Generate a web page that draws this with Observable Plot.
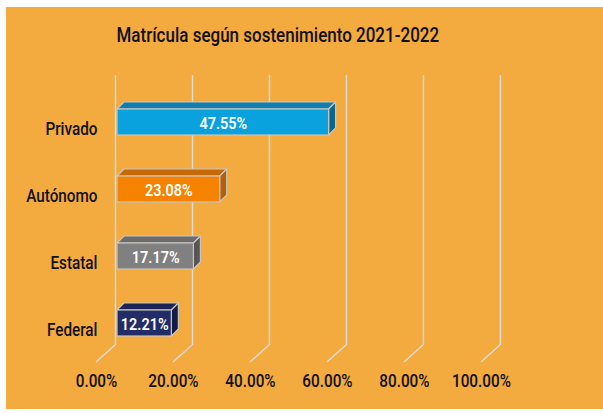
<!DOCTYPE html>
<html>
<head>
<meta charset="utf-8">
<script src="https://cdn.jsdelivr.net/npm/d3@7"></script>
<script src="https://cdn.jsdelivr.net/npm/@observablehq/plot@0.6"></script>
<style>
html, body { margin: 0; padding: 0; background: #ffffff; }
#chart { position: absolute; left: 6px; top: 7px; width: 597px; height: 402px; background: #F3AA3F; font-family: Roboto, sans-serif; overflow: hidden; }
#title { height: 50px; box-sizing: border-box; padding-top: 16px; padding-right: 53px; line-height: 24px; text-align: center; }
#title span { display: inline-block; font-size: 20px; font-weight: 500; color: #111111; transform: scaleX(0.85); transform-origin: center; white-space: nowrap; }
#plot svg { display: block; }
</style>
</head>
<body>
<div id="chart">
  <div id="title"><span>Matrícula según sostenimiento 2021-2022</span></div>
  <div id="plot"></div>
</div>
<script>
const categories = ["Privado", "Autónomo", "Estatal", "Federal"];
const values = [47.55, 23.08, 17.17, 12.21];
const valueLabels = ["47.55%", "23.08%", "17.17%", "12.21%"];
const frontColors = ["#0AA2DE", "#F58300", "#808080", "#222C66"];
const topColors = ["#0F7FB0", "#C46A08", "#6C6C6C", "#1B2454"];
const sideColors = ["#086690", "#B3600A", "#565656", "#141B42"];
const ticks = [0, 20, 40, 60, 80, 100];
const tickLabels = ["0.00%", "20.00%", "40.00%", "60.00%", "80.00%", "100.00%"];

const data = categories.map((c, i) => ({
  cat: c, value: values[i], label: valueLabels[i],
  front: frontColors[i], top: topColors[i], side: sideColors[i]
}));

const GRID = 0.865;   // back-wall gridlines are compressed relative to the front bars (3D perspective)
const DEPTH = 7;      // bar depth in pixels
const FLOOR_DX = -19, FLOOR_DY = 17;
const EDGE = "#C9C5BE";
const NARROW = 0.85;  // horizontal squeeze to imitate the condensed typeface

function floorLines(index, scales, values, dim) {
  const g = d3.create("svg:g").attr("stroke", "#DDDAD3").attr("stroke-width", 1.5).attr("fill", "none");
  const yb = dim.height - dim.marginBottom;
  ticks.forEach(t => {
    const gx = scales.x(t * GRID) - 2;
    g.append("path").attr("d", `M${gx},${yb}L${gx + FLOOR_DX},${yb + FLOOR_DY}`);
  });
  return g.node();
}

function boxFaces(index, scales) {
  const g = d3.create("svg:g").attr("stroke", EDGE).attr("stroke-width", 1.2).attr("stroke-linejoin", "round");
  const bw = scales.y.bandwidth ? scales.y.bandwidth() : 26;
  data.forEach(d => {
    const x0 = scales.x(0), x1 = scales.x(d.value);
    const y0 = scales.y(d.cat), y1 = y0 + bw;
    g.append("path").attr("fill", d.top)
      .attr("d", `M${x0},${y0}L${x0 + DEPTH},${y0 - DEPTH}L${x1 + DEPTH},${y0 - DEPTH}L${x1},${y0}Z`);
    g.append("path").attr("fill", d.side)
      .attr("d", `M${x1},${y0}L${x1 + DEPTH},${y0 - DEPTH}L${x1 + DEPTH},${y1 - DEPTH}L${x1},${y1}Z`);
  });
  return g.node();
}

const chart = Plot.plot({
  width: 597,
  height: 352,
  marginLeft: 111,
  marginRight: 41,
  marginTop: 18,
  marginBottom: 64,
  style: { background: "transparent", fontFamily: "Roboto, sans-serif", overflow: "visible" },
  x: { domain: [0, 100], axis: null },
  y: { domain: categories, range: [30.5, 300.5], paddingInner: 0.615, paddingOuter: 0.3075, axis: null },
  color: { type: "identity" },
  marks: [
    Plot.ruleX(ticks, { x: d => d * GRID, dx: -2, stroke: "#DDDAD3", strokeWidth: 1.5 }),
    floorLines,
    boxFaces,
    Plot.barX(data, { x1: () => 0, x2: "value", y: "cat", fill: "front", stroke: EDGE, strokeWidth: 1.2 }),
    Plot.text(data, { x: d => d.value / 2, y: "cat", text: "label", fill: "white", fontSize: 17, fontWeight: 600, dy: 1 }),
    Plot.text(categories, { x: () => 0, y: d => d, text: d => d, textAnchor: "end", dx: -20, dy: 7, fontSize: 18, fontWeight: 500, fill: "#111111" }),
    Plot.text(ticks, { x: d => d * GRID, text: (d, i) => tickLabels[i], frameAnchor: "bottom", dx: -21, dy: 41, fontSize: 18, fontWeight: 500, fill: "#111111" })
  ]
});

// squeeze text horizontally (condensed look), keeping each label's anchor point
chart.querySelectorAll("text").forEach(t => {
  const tr = t.getAttribute("transform");
  if (tr) {
    t.setAttribute("transform", tr + ` scale(${NARROW},1)`);
  } else {
    const x = +(t.getAttribute("x") || 0), y = +(t.getAttribute("y") || 0);
    t.removeAttribute("x"); t.removeAttribute("y");
    t.setAttribute("transform", `translate(${x},${y}) scale(${NARROW},1)`);
  }
});
document.getElementById("plot").appendChild(chart);
</script>
</body>
</html>
